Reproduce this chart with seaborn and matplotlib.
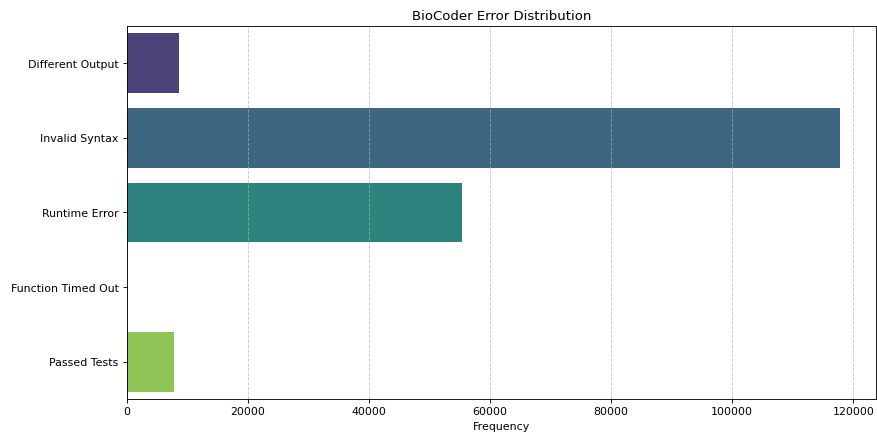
import matplotlib
matplotlib.use("Agg")
import matplotlib.pyplot as plt
import seaborn as sns
import pandas as pd

# Error categories and counts
categories = ["Different Output", "Invalid Syntax", "Runtime Error", "Function Timed Out", "Passed Tests"]
counts = [8610, 117850, 55410, 0, 7890]

df = pd.DataFrame({"category": categories, "count": counts})

fig = plt.figure(figsize=(11, 5.5))
ax = sns.barplot(data=df, x="count", y="category", hue="category",
                 palette="viridis", legend=False)
ax.grid(axis="x", linestyle="--", alpha=0.7)
ax.set_xlabel("Frequency")
ax.set_ylabel("")
ax.set_title("BioCoder Error Distribution")
fig.subplots_adjust(left=126.5 / 877, right=876 / 877, bottom=1 - 400 / 439, top=1 - 26.5 / 439)
plt.savefig("out.png", dpi=79.73)
plt.close()
